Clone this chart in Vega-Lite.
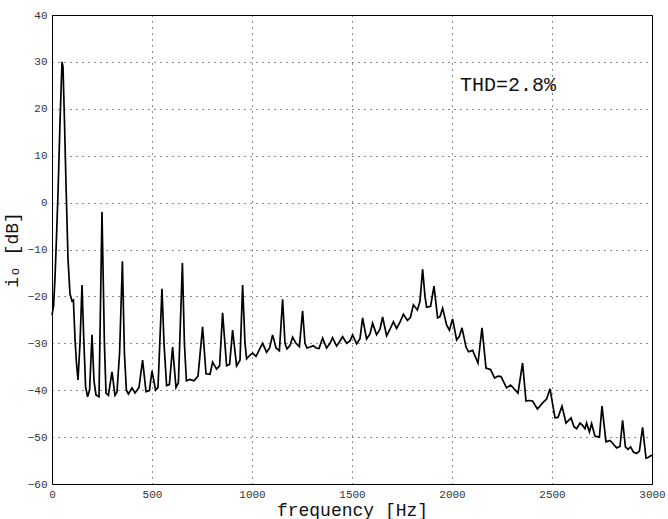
{
  "$schema": "https://vega.github.io/schema/vega-lite/v6.json",
  "width": 600,
  "height": 469,
  "autosize": {"type": "none"},
  "padding": {"left": 52, "top": 15, "right": 16, "bottom": 35},
  "background": "white",
  "config": {
    "view": {"stroke": "black", "strokeWidth": 1},
    "font": "Liberation Mono",
    "axis": {
      "labelFont": "Liberation Mono",
      "labelFontSize": 11,
      "labelColor": "#333",
      "titleFont": "Liberation Mono",
      "titleFontWeight": "normal",
      "titleFontSize": 18,
      "titleColor": "#111",
      "domain": false,
      "ticks": false,
      "grid": true,
      "gridColor": "black",
      "gridDash": [1, 5],
      "gridWidth": 1,
      "gridOpacity": 0.9
    }
  },
  "datasets": {
    "spectrum": [
      {"f":0,"db":-24},{"f":8,"db":-22},{"f":15,"db":-16},{"f":22,"db":-8},{"f":30,"db":2},{"f":40,"db":17},{"f":50,"db":30},{"f":55,"db":29},{"f":62,"db":18},{"f":70,"db":4},{"f":80,"db":-12},{"f":90,"db":-19.5},{"f":100,"db":-21},{"f":107,"db":-20.8},{"f":115,"db":-29},{"f":122,"db":-34},{"f":130,"db":-37.8},{"f":140,"db":-30},{"f":150,"db":-17.6},{"f":158,"db":-28},{"f":168,"db":-39.3},{"f":178,"db":-41.4},{"f":188,"db":-40},{"f":200,"db":-28.2},{"f":210,"db":-38},{"f":220,"db":-41},{"f":235,"db":-41.4},{"f":250,"db":-2},{"f":262,"db":-30},{"f":270,"db":-40.6},{"f":282,"db":-41.1},{"f":300,"db":-36.1},{"f":315,"db":-41.1},{"f":325,"db":-40.4},{"f":338,"db":-32},{"f":352,"db":-12.5},{"f":362,"db":-32},{"f":372,"db":-40},{"f":382,"db":-40.8},{"f":400,"db":-39.5},{"f":415,"db":-40.6},{"f":435,"db":-39.4},{"f":453,"db":-33.6},{"f":470,"db":-40.3},{"f":487,"db":-40.1},{"f":500,"db":-35.9},{"f":518,"db":-40},{"f":530,"db":-39.4},{"f":550,"db":-18.4},{"f":560,"db":-30},{"f":573,"db":-39},{"f":587,"db":-38.8},{"f":603,"db":-30.8},{"f":620,"db":-39.4},{"f":632,"db":-38.4},{"f":652,"db":-12.9},{"f":662,"db":-30},{"f":672,"db":-38},{"f":690,"db":-37.7},{"f":710,"db":-38},{"f":730,"db":-37},{"f":753,"db":-26.5},{"f":770,"db":-36.5},{"f":790,"db":-36.6},{"f":803,"db":-34},{"f":823,"db":-35.5},{"f":838,"db":-34.8},{"f":853,"db":-23.5},{"f":873,"db":-34.8},{"f":888,"db":-34.5},{"f":903,"db":-27.2},{"f":923,"db":-34.8},{"f":940,"db":-33.6},{"f":953,"db":-17.6},{"f":965,"db":-30},{"f":973,"db":-33.3},{"f":990,"db":-32.5},{"f":1003,"db":-32.1},{"f":1020,"db":-32.8},{"f":1035,"db":-31.5},{"f":1053,"db":-30},{"f":1073,"db":-31.9},{"f":1088,"db":-31},{"f":1103,"db":-28.2},{"f":1120,"db":-31},{"f":1137,"db":-31.6},{"f":1153,"db":-20.6},{"f":1165,"db":-30},{"f":1175,"db":-31.2},{"f":1190,"db":-30.5},{"f":1203,"db":-28.7},{"f":1220,"db":-30},{"f":1237,"db":-30.7},{"f":1253,"db":-23.1},{"f":1265,"db":-30},{"f":1275,"db":-31},{"f":1290,"db":-30.8},{"f":1307,"db":-30.5},{"f":1320,"db":-31},{"f":1335,"db":-31.1},{"f":1353,"db":-28.9},{"f":1373,"db":-31},{"f":1390,"db":-30},{"f":1403,"db":-28.8},{"f":1423,"db":-30.6},{"f":1440,"db":-29.5},{"f":1453,"db":-28.6},{"f":1473,"db":-30},{"f":1490,"db":-29.5},{"f":1503,"db":-28.2},{"f":1523,"db":-30.1},{"f":1540,"db":-29},{"f":1553,"db":-24.6},{"f":1573,"db":-29.1},{"f":1590,"db":-28},{"f":1603,"db":-25.7},{"f":1623,"db":-28.2},{"f":1640,"db":-27},{"f":1653,"db":-24.4},{"f":1673,"db":-28.4},{"f":1690,"db":-27},{"f":1707,"db":-25.4},{"f":1723,"db":-26.8},{"f":1740,"db":-25.5},{"f":1757,"db":-23.8},{"f":1777,"db":-25.1},{"f":1792,"db":-24.5},{"f":1807,"db":-21.8},{"f":1827,"db":-22.9},{"f":1840,"db":-21},{"f":1853,"db":-14.2},{"f":1865,"db":-20},{"f":1873,"db":-22.3},{"f":1893,"db":-22.1},{"f":1910,"db":-17.8},{"f":1928,"db":-24.6},{"f":1940,"db":-24.3},{"f":1953,"db":-22.5},{"f":1973,"db":-26.1},{"f":1987,"db":-27.2},{"f":2003,"db":-24.8},{"f":2023,"db":-29.3},{"f":2037,"db":-28.5},{"f":2050,"db":-26.7},{"f":2070,"db":-30.8},{"f":2083,"db":-31.8},{"f":2103,"db":-31.5},{"f":2130,"db":-34.2},{"f":2150,"db":-26.7},{"f":2170,"db":-35.3},{"f":2193,"db":-35.6},{"f":2213,"db":-37.4},{"f":2230,"db":-37},{"f":2245,"db":-37.1},{"f":2273,"db":-39.5},{"f":2293,"db":-38.9},{"f":2330,"db":-40.6},{"f":2353,"db":-34.2},{"f":2370,"db":-42.3},{"f":2385,"db":-42.2},{"f":2403,"db":-42.3},{"f":2427,"db":-44},{"f":2453,"db":-42.7},{"f":2473,"db":-41.9},{"f":2490,"db":-39.7},{"f":2515,"db":-45.9},{"f":2530,"db":-45.8},{"f":2550,"db":-43.4},{"f":2570,"db":-47},{"f":2595,"db":-45.9},{"f":2610,"db":-47.8},{"f":2623,"db":-48.2},{"f":2640,"db":-47},{"f":2653,"db":-47.5},{"f":2665,"db":-48.2},{"f":2673,"db":-47},{"f":2687,"db":-48.9},{"f":2698,"db":-47.1},{"f":2715,"db":-49.8},{"f":2737,"db":-50},{"f":2750,"db":-43.4},{"f":2770,"db":-51},{"f":2790,"db":-50.7},{"f":2803,"db":-51.3},{"f":2823,"db":-52.3},{"f":2840,"db":-52},{"f":2853,"db":-46.4},{"f":2867,"db":-52.1},{"f":2880,"db":-52.6},{"f":2893,"db":-52.1},{"f":2907,"db":-53.2},{"f":2923,"db":-53.5},{"f":2937,"db":-53},{"f":2953,"db":-47.9},{"f":2970,"db":-54.5},{"f":2983,"db":-54.3},{"f":2995,"db":-53.9},{"f":3000,"db":-54}
    ],
    "note": [{"f": 2040, "db": 25, "label": "THD=2.8%"}]
  },
  "layer": [
    {
      "data": {"name": "spectrum"},
      "mark": {"type": "line", "color": "black", "strokeWidth": 1.7, "strokeJoin": "miter"},
      "encoding": {
        "x": {"field": "f", "type": "quantitative", "title": "frequency [Hz]",
              "scale": {"domain": [0, 3000], "nice": false, "zero": false},
              "axis": {"values": [0,500,1000,1500,2000,2500,3000], "format": "d", "labelPadding": 4, "titleBaseline": "alphabetic", "titleY": 31, "labelFlush": false}},
        "y": {"field": "db", "type": "quantitative", "title": "iₒ [dB]",
              "scale": {"domain": [-60, 40], "nice": false, "zero": false},
              "axis": {"values": [-60,-50,-40,-30,-20,-10,0,10,20,30,40], "format": "d", "labelPadding": 5, "titlePadding": 6, "labelFlush": false}}
      }
    },
    {
      "data": {"name": "note"},
      "mark": {"type": "text", "align": "left", "baseline": "middle", "font": "Liberation Mono", "fontSize": 20, "color": "#111"},
      "encoding": {
        "x": {"field": "f", "type": "quantitative"},
        "y": {"field": "db", "type": "quantitative"},
        "text": {"field": "label"}
      }
    }
  ]
}
